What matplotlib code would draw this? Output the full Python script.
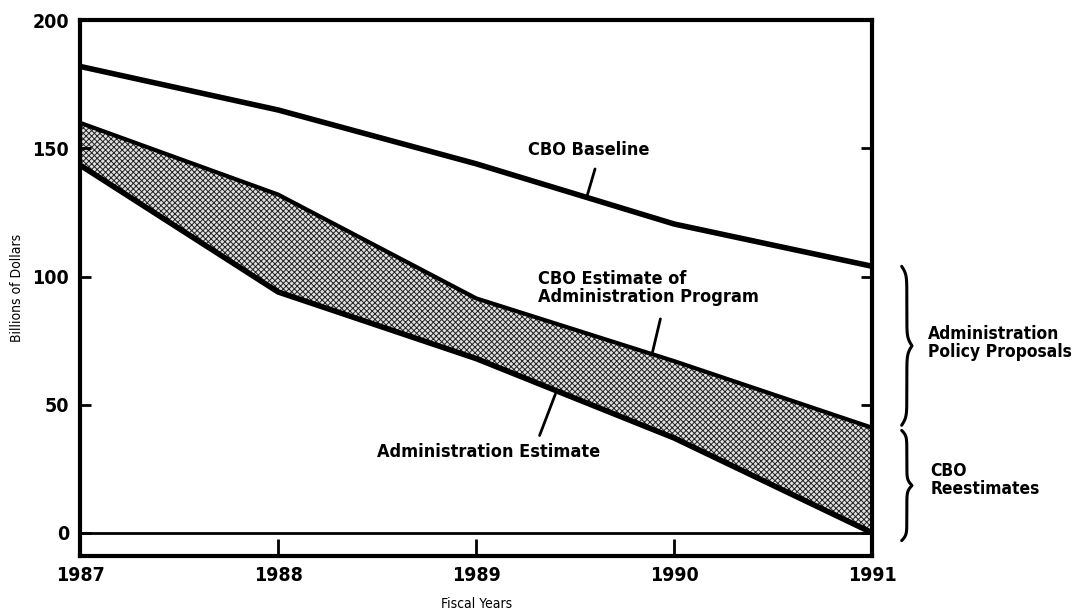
import numpy as np
import matplotlib
matplotlib.use('Agg')
import matplotlib.pyplot as plt
import matplotlib.transforms as mtransforms

plt.rcParams['font.family'] = ['DejaVu Sans']
plt.rcParams['font.weight'] = 'bold'
plt.rcParams['font.stretch'] = 'condensed'
plt.rcParams['hatch.linewidth'] = 0.7

anios = [1987, 1988, 1989, 1990, 1991]
cbo_baseline = [182, 165, 144, 120.5, 104]
cbo_estimate_admin = [160, 132, 91.5, 67, 41]
admin_estimate = [143.5, 94, 68, 37, 0]

yticks = [0, 50, 100, 150, 200]


def llave(ax, y0, y1, x0, ancho, lw=2.2):
    # llave vertical "}" entre y0 y y1, x en coordenadas de ejes
    beta = 40.0
    s = np.linspace(0, 0.5, 150)
    media = 1 / (1 + np.exp(-beta * (s - s[0]))) + 1 / (1 + np.exp(-beta * (s - s[-1])))
    media = media - 0.5
    off = np.concatenate([media, media[-2::-1]])
    ys = np.linspace(y0, y1, len(off))
    trans = mtransforms.blended_transform_factory(ax.transAxes, ax.transData)
    ax.plot(x0 + ancho * off, ys, color='black', lw=lw, transform=trans, clip_on=False,
            solid_capstyle='round')


fig = plt.figure(figsize=(10.81, 6.14), dpi=100)
ax = fig.add_axes([0.074, 0.0945, 0.733, 0.8725])

ax.fill_between(anios, admin_estimate, cbo_estimate_admin, facecolor='#e0e0e0',
                edgecolor='#222222', hatch='xxxxxx', linewidth=0)
ax.plot(anios, cbo_baseline, color='black', lw=4, solid_capstyle='butt')
ax.plot(anios, cbo_estimate_admin, color='black', lw=3)
ax.plot(anios, admin_estimate, color='black', lw=4)
ax.axhline(0, color='black', lw=2)

ax.set_xlim(1987, 1991)
ax.set_ylim(-9, 200)
ax.set_xticks(anios)
ax.set_yticks(yticks)
ax.tick_params(axis='both', direction='in', labelsize=14, width=2)
ax.tick_params(axis='y', length=8, right=True, pad=8)
ax.tick_params(axis='x', length=12, pad=7)
for s in ax.spines.values():
    s.set_linewidth(3)

ax.set_xlabel('Fiscal Years', fontsize=10, labelpad=9)
ax.set_ylabel('Billions of Dollars', fontsize=10, labelpad=6)

flecha = dict(arrowstyle='-', lw=2, color='black', shrinkA=0, shrinkB=0)

# etiquetas con flechas
ax.text(1989.57, 149.5, 'CBO Baseline', ha='center', va='center', fontsize=13)
ax.annotate('', xy=(1989.56, 131.5), xytext=(1989.60, 142), arrowprops=flecha)

ax.text(1989.31, 95.5, 'CBO Estimate of\nAdministration Program', ha='left', va='center',
        fontsize=13, linespacing=1.0)
ax.annotate('', xy=(1989.89, 70.5), xytext=(1989.93, 83.5), arrowprops=flecha)

ax.text(1989.06, 31.5, 'Administration Estimate', ha='center', va='center', fontsize=13)
ax.annotate('', xy=(1989.40, 54.2), xytext=(1989.32, 38), arrowprops=flecha)

# llaves a la derecha
llave(ax, cbo_baseline[-1], cbo_estimate_admin[-1] + 1, 1.037, 0.013)
llave(ax, cbo_estimate_admin[-1] - 1, admin_estimate[-1] - 3, 1.037, 0.013)

trans = mtransforms.blended_transform_factory(ax.transAxes, ax.transData)
ax.text(1.07, 74, 'Administration\nPolicy Proposals', transform=trans, ha='left',
        va='center', fontsize=12.5, linespacing=1.0)
ax.text(1.073, 20.5, 'CBO\nReestimates', transform=trans, ha='left', va='center',
        fontsize=12.5, linespacing=1.0)

plt.savefig('out.png', dpi=100)
